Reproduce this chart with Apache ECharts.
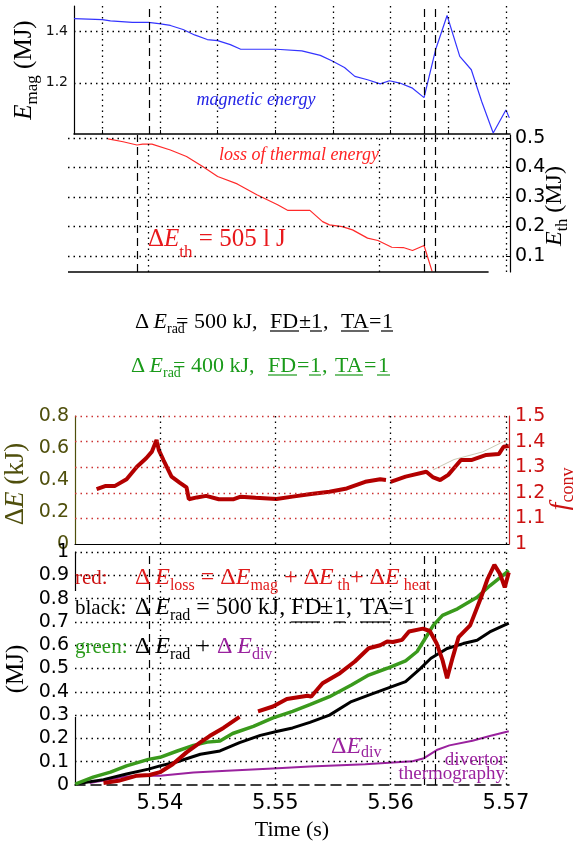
<!DOCTYPE html>
<html><head><meta charset="utf-8">
<script src="https://cdn.jsdelivr.net/npm/echarts@6/dist/echarts.min.js"></script>
<style>html,body{margin:0;padding:0;background:#fff}#c{width:573px;height:847px}</style>
</head><body><div id="c"></div>
<script>
// ---------------- data ----------------
const EMAG_T = [5.53255,5.5350,5.5357,5.5376,5.5390,5.5399,5.5409,5.5420,5.5430,5.5441,5.5450,5.5461,5.5470,5.5501,5.5523,5.5539,5.5549,5.5560,5.5569,5.5580,5.5591,5.5599,5.5608,5.5619,5.5629,5.5639,5.5649,5.5660,5.5670,5.5679,5.5689,5.5700,5.5703];
const EMAG_V = [1.451,1.447,1.442,1.436,1.436,1.431,1.424,1.408,1.387,1.369,1.365,1.349,1.331,1.331,1.325,1.307,1.286,1.260,1.225,1.212,1.196,1.208,1.199,1.179,1.142,1.329,1.463,1.303,1.251,1.127,1.004,1.094,1.063];

const ETH_T = [5.5355,5.5368,5.5380,5.5385,5.5393,5.5409,5.5423,5.5437,5.5450,5.5467,5.5484,5.5502,5.5511,5.5530,5.5541,5.5547,5.5558,5.5567,5.5580,5.5589,5.5601,5.5611,5.5619,5.5629,5.5636];
const ETH_V = [0.497,0.487,0.476,0.479,0.479,0.459,0.437,0.403,0.369,0.344,0.307,0.273,0.254,0.254,0.216,0.205,0.199,0.188,0.160,0.152,0.129,0.128,0.118,0.135,0.047];

const FCONV_T = [5.5345,5.5353,5.5361,5.5371,5.5380,5.5388,5.5393,5.5397,5.5399,5.5403,5.5410,5.5417,5.5423,5.5425,5.5432,5.5440,5.5451,5.5464,5.5470,5.5483,5.5501,5.5515,5.5531,5.5547,5.5562,5.5578,5.5591,5.5596,5.5598,5.5600,5.5613,5.5631,5.5637,5.5643,5.5650,5.5661,5.5670,5.5683,5.5694,5.5698,5.57025];
const FCONV_V = [1.214,1.227,1.227,1.253,1.302,1.335,1.361,1.406,1.367,1.328,1.263,1.240,1.221,1.175,1.182,1.188,1.175,1.175,1.185,1.181,1.176,1.185,1.195,1.204,1.217,1.243,1.253,1.250,null,1.243,1.263,1.282,1.260,1.250,1.270,1.328,1.328,1.348,1.352,1.380,1.383];
const TRACE_T = [5.5637,5.5655,5.5680,5.57025];
const TRACE_V = [1.290,1.330,1.360,1.410];

const LOSS_T = [5.5351,5.5364,5.5380,5.5391,5.5400,5.5411,5.5423,5.5435,5.5443,5.5455,5.5469,5.5477,5.5485,5.5498,5.5510,5.5528,5.5531,5.5541,5.5556,5.5569,5.5581,5.5591,5.5597,5.5602,5.5610,5.5616,5.5628,5.5634,5.5640,5.5645,5.5649,5.5654,5.5659,5.5669,5.5678,5.5684,5.5690,5.5695,5.5699,5.57025];
const LOSS_V = [0.009,0.018,0.040,0.043,0.055,0.089,0.140,0.183,0.210,0.245,0.292,null,0.316,0.337,0.369,0.383,0.379,0.437,0.480,0.530,0.587,0.600,0.616,0.614,0.623,0.659,0.671,0.661,0.607,0.536,0.458,0.550,0.635,0.685,0.799,0.883,0.945,0.905,0.848,0.912];

const RADDIV_T = [5.53265,5.5342,5.5357,5.5371,5.5390,5.5400,5.5415,5.5429,5.5441,5.5452,5.5463,5.5481,5.5498,5.5515,5.5530,5.5547,5.5566,5.5581,5.5597,5.5613,5.5623,5.5632,5.5637,5.5645,5.5658,5.5675,5.5686,5.57025];
const RADDIV_V = [0.004,0.034,0.055,0.082,0.110,0.119,0.146,0.170,0.184,0.189,0.221,0.252,0.288,0.316,0.345,0.379,0.429,0.472,0.501,0.533,0.573,0.645,0.685,0.728,0.756,0.806,0.855,0.920];

const RAD_T = [5.53265,5.5351,5.5371,5.5390,5.5400,5.5415,5.5435,5.5452,5.5469,5.5487,5.5502,5.5515,5.5530,5.5547,5.5566,5.5581,5.5597,5.5613,5.5626,5.5635,5.5649,5.5663,5.5675,5.5686,5.57025];
const RAD_V = [0.004,0.023,0.047,0.068,0.082,0.100,0.132,0.146,0.182,0.213,0.231,0.245,0.269,0.300,0.358,0.386,0.415,0.444,0.501,0.544,0.586,0.607,0.621,0.657,0.695];

const DIV_T = [5.5339,5.5371,5.5390,5.5400,5.5429,5.5458,5.5498,5.5530,5.5578,5.5619,5.5629,5.5640,5.5651,5.5671,5.5686,5.57025];
const DIV_V = [0.009,0.037,0.040,0.040,0.054,0.061,0.071,0.079,0.089,0.102,0.115,0.150,0.170,0.190,0.210,0.231];

// ticks / grid values
const TOP_VGRID = [5.535,5.54,5.545,5.55,5.555,5.56,5.565,5.57];
const EVENT_T = [5.5391,5.5629,5.5639];
const TH_DASH = [5.5380,5.5629,5.5639];
const TH_DOT = [5.5390,5.5590,5.5700];
const X_TICKS = [5.54,5.55,5.56,5.57];
const P1_Y = [1.2,1.4];
const P2_Y = [0.1,0.2,0.3,0.4,0.5];
const P3_YL = [0,0.2,0.4,0.6,0.8];
const P3_YR = [1,1.1,1.2,1.3,1.4,1.5];
const P3_RGRID = [1.1,1.2,1.3,1.4,1.5];
const P4_Y = [0,0.1,0.2,0.3,0.4,0.5,0.6,0.7,0.8,0.9,1];
const P4_GRID = [0.1,0.2,0.3,0.4,0.5,0.6,0.7,0.8,0.9,1];

// ---------------- helpers ----------------
const SERIF = '"Liberation Serif", "DejaVu Serif", serif';
const SANS = '"DejaVu Sans", "Liberation Sans", sans-serif';
const zip = (a, b) => a.map((t, i) => [t, b[i]]);
const fmt = v => String(Math.round(v * 100) / 100);

const DOT = {type: [1.5, 4], color: '#000', width: 1.3};
const DASH = {type: [8, 5], color: '#000', width: 1.2};
const RDOT = {type: [1.5, 4], color: '#cc3333', width: 1.3};

function marks(xi, yi, lines, style) {
  return {type: 'line', xAxisIndex: xi, yAxisIndex: yi, data: [], z: 1, silent: true,
    markLine: {silent: true, precision: 6, symbol: ['none', 'none'], animation: false,
      label: {show: false}, emphasis: {disabled: true}, lineStyle: style, data: lines}};
}
const vl = vals => vals.map(v => ({xAxis: v}));
const hl = vals => vals.map(v => ({yAxis: v}));
const hlSeg = (vals, x0, x1) => vals.map(v => [{coord: [x0, v]}, {coord: [x1, v]}]);

function richSet(color, big, sub, drop) {
  const L = Math.max(big + 4, 2 * drop + sub);
  const base = {fontFamily: SERIF, fontSize: big, lineHeight: L, fill: color, color: color, verticalAlign: 'middle'};
  return {
    d: Object.assign({}, base),
    e: Object.assign({}, base, {fontStyle: 'italic'}),
    n: Object.assign({}, base),
    s: {fontFamily: SERIF, fontSize: sub, lineHeight: sub, fill: color, color: color, verticalAlign: 'bottom'}
  };
}
function rtext(x, y, text, rich, opt) {
  opt = opt || {};
  const a = opt.align || 'left';
  return {type: 'text', x: x, y: y, rotation: opt.rot || 0, z: 10, silent: true,
    style: {text: text, rich: rich, x: 0, y: 0, textAlign: a, align: a, textVerticalAlign: 'middle', verticalAlign: 'middle'}};
}
function ptext(x, y, text, size, color, opt) {
  opt = opt || {};
  const a = opt.align || 'left';
  return {type: 'text', x: x, y: y, rotation: opt.rot || 0, z: 10, silent: true,
    style: {text: text, x: 0, y: 0, fill: color,
      font: (opt.italic ? 'italic ' : '') + size + 'px ' + (opt.family || SERIF),
      textAlign: a, align: a, textVerticalAlign: 'middle', verticalAlign: 'middle'}};
}
function uline(x1, x2, y, color) {
  return {type: 'line', z: 10, silent: true, shape: {x1: x1, y1: y, x2: x2, y2: y}, style: {stroke: color, lineWidth: 1.2}};
}
function box(x, y, w, h) {
  return {type: 'rect', z: 2, silent: true, shape: {x: x, y: y, width: w, height: h}, style: {fill: '#fff'}};
}

// axis ranges (time)
const T0 = [5.532541, 5.570356];
const T1 = [5.532021, 5.570356];
const T2 = [5.532628, 5.570269];

const RED = '#e01b1b', DRED = '#b30000', GREEN = '#2a9a1a', PURPLE = '#9a229e', OLIVE = '#4f4f0c', BLUE = '#3434ff';

const noAxisX = (gi, r) => ({type: 'value', gridIndex: gi, min: r[0], max: r[1], splitLine: {show: false},
  axisTick: {show: false}, axisLabel: {show: false}, axisLine: {show: false, onZero: false}});

const option = {
  animation: false,
  backgroundColor: '#fff',
  grid: [
    {left: 74, top: 6, width: 436, height: 128},
    {left: 68, top: 135, width: 442, height: 137},
    {left: 75, top: 416, width: 434, height: 128},
    {left: 75, top: 552, width: 434, height: 233}
  ],
  xAxis: [
    Object.assign(noAxisX(0, T0), {
      axisLine: {show: true, onZero: false, lineStyle: {color: '#000', width: 1.5}},
      axisTick: {show: true, inside: true, length: 4, customValues: TOP_VGRID.concat(EVENT_T), lineStyle: {color: '#000'}}
    }),
    noAxisX(1, T1),
    Object.assign(noAxisX(2, T2), {axisLine: {show: true, onZero: false, lineStyle: {color: '#000', width: 1.2}}}),
    Object.assign(noAxisX(3, T2), {
      axisLine: {show: true, onZero: false, lineStyle: {color: '#000', width: 1.5, type: [10, 6]}},
      axisLabel: {show: true, customValues: X_TICKS, formatter: v => v.toFixed(2), fontSize: 21,
        fontFamily: SANS, color: '#000', margin: 8},
      name: 'Time (s)', nameLocation: 'middle', nameGap: 34,
      nameTextStyle: {fontFamily: SERIF, fontSize: 22, color: '#000'}
    })
  ],
  yAxis: [
    {type: 'value', gridIndex: 0, min: 1, max: 1.5, splitLine: {show: false}, axisTick: {show: false},
      axisLine: {show: true, lineStyle: {color: '#000', width: 1.2}},
      axisLabel: {customValues: P1_Y, formatter: fmt, fontSize: 14, fontFamily: SANS, color: '#111', margin: 6}},
    {type: 'value', gridIndex: 1, position: 'right', min: 0.045, max: 0.51, splitLine: {show: false},
      axisTick: {show: true, inside: true, length: 4, customValues: P2_Y, lineStyle: {color: '#000'}},
      axisLine: {show: true, lineStyle: {color: '#000', width: 1.2}},
      axisLabel: {customValues: P2_Y, formatter: fmt, fontSize: 19, fontFamily: SANS, color: '#000', margin: 5}},
    {type: 'value', gridIndex: 2, position: 'left', min: 0, max: 0.8, splitLine: {show: false}, axisTick: {show: false},
      axisLine: {show: true, lineStyle: {color: OLIVE, width: 1.2}},
      axisLabel: {customValues: P3_YL, formatter: fmt, fontSize: 19, fontFamily: SANS, color: OLIVE, margin: 6}},
    {type: 'value', gridIndex: 2, position: 'right', min: 1, max: 1.5, splitLine: {show: false}, axisTick: {show: false},
      axisLine: {show: true, lineStyle: {color: '#cc2222', width: 1.2}},
      axisLabel: {customValues: P3_YR, formatter: fmt, fontSize: 19, fontFamily: SANS, color: '#cc1111', margin: 6}},
    {type: 'value', gridIndex: 3, position: 'left', min: 0, max: 1, splitLine: {show: false}, axisTick: {show: false},
      axisLine: {show: true, lineStyle: {color: '#000', width: 1.2}},
      axisLabel: {customValues: P4_Y, formatter: fmt, fontSize: 19, fontFamily: SANS, color: '#000', margin: 6}}
  ],
  series: [
    // grid lines
    marks(0, 0, vl(TOP_VGRID).concat(hl(P1_Y)), DOT),
    marks(0, 0, vl(EVENT_T), DASH),
    marks(1, 1, hlSeg(P2_Y, T1[0], 5.5700).concat(vl(TH_DOT)), DOT),
    marks(1, 1, vl(TH_DASH), DASH),
    marks(1, 1, [[{coord: [T1[0], 0.045]}, {coord: [5.5685, 0.045]}]], {type: 'solid', color: '#000', width: 1.5}),
    marks(2, 3, hl(P3_RGRID), RDOT),
    marks(2, 3, vl(X_TICKS), DOT),
    marks(3, 4, vl(X_TICKS).concat(hl(P4_GRID)), DOT),
    marks(3, 4, vl(EVENT_T), DASH),
    // data
    {type: 'line', name: 'E_mag', xAxisIndex: 0, yAxisIndex: 0, data: zip(EMAG_T, EMAG_V), symbol: 'none', z: 3,
      lineStyle: {color: BLUE, width: 1.2}},
    {type: 'line', name: 'E_th', xAxisIndex: 1, yAxisIndex: 1, data: zip(ETH_T, ETH_V), symbol: 'none', z: 3,
      lineStyle: {color: '#ff2a2a', width: 1.2}},
    {type: 'line', name: 'trace', xAxisIndex: 2, yAxisIndex: 3, data: zip(TRACE_T, TRACE_V), symbol: 'none', z: 3,
      lineStyle: {color: '#c9c9b4', width: 1}},
    {type: 'line', name: 'f_conv', xAxisIndex: 2, yAxisIndex: 3, data: zip(FCONV_T, FCONV_V), symbol: 'none', z: 4,
      connectNulls: false, lineStyle: {color: DRED, width: 4}},
    {type: 'line', name: 'div', xAxisIndex: 3, yAxisIndex: 4, data: zip(DIV_T, DIV_V), symbol: 'none', z: 3,
      lineStyle: {color: PURPLE, width: 2}},
    {type: 'line', name: 'rad', xAxisIndex: 3, yAxisIndex: 4, data: zip(RAD_T, RAD_V), symbol: 'none', z: 4,
      lineStyle: {color: '#000', width: 3}},
    {type: 'line', name: 'raddiv', xAxisIndex: 3, yAxisIndex: 4, data: zip(RADDIV_T, RADDIV_V), symbol: 'none', z: 5,
      lineStyle: {color: '#3a9a1c', width: 3.5}},
    {type: 'line', name: 'loss', xAxisIndex: 3, yAxisIndex: 4, data: zip(LOSS_T, LOSS_V), symbol: 'none', z: 6,
      connectNulls: false, lineStyle: {color: DRED, width: 4}}
  ],
  graphic: {elements: []}
};

// ---------------- text annotations ----------------
const G = option.graphic.elements;
// boxes hiding grid lines behind the legend text (bottom panel) and the ΔE_th note
G.push(box(133, 563, 297, 28), box(73, 591, 347, 42), box(73, 633, 263, 24), box(73, 657, 320, 25), box(73, 682, 185, 35));
G.push(box(146, 228, 136, 34));

// axis titles (rotated)
const R90 = Math.PI / 2;
G.push(rtext(24, 70, '{e|E}{s|mag}{n| (MJ)}', richSet('#000', 25, 17, 9), {rot: R90, align: 'center'}));
G.push(rtext(555, 206, '{e|E}{s|th}{n| (MJ)}', richSet('#000', 24, 16, 8), {rot: R90, align: 'center'}));
G.push(rtext(16, 484, '{d|Δ}{e|E}{n| (kJ)}', richSet(OLIVE, 27, 16, 8), {rot: R90, align: 'center'}));
G.push(rtext(561, 489, '{e|f}{s|conv}', richSet('#cc1111', 28, 18, 7), {rot: R90, align: 'center'}));
G.push(ptext(16, 669, '(MJ)', 25, '#000', {rot: R90, align: 'center'}));

// panel labels
G.push(ptext(256, 100, 'magnetic energy', 18, '#2323e6', {italic: true, align: 'center'}));
G.push(ptext(299, 155, 'loss of thermal energy', 18, '#ff2222', {italic: true, align: 'center'}));
G.push(rtext(148, 239, '{d|Δ}{e|E}{s|th}{n| = 505 l J}', richSet('#e8181c', 25, 17, 14)));

// middle captions
const BK = richSet('#000', 22, 14, 7);
G.push(rtext(135, 322, '{d|Δ\u2009}{e|E}{s|rad}', BK));
G.push(ptext(176, 322, '= 500 kJ,', 22, '#000'));
G.push(ptext(270, 322, 'FD', 22, '#000'), ptext(299, 322, '±', 22, '#000'), ptext(311, 322, '1', 22, '#000'),
  ptext(323, 322, ',', 22, '#000'), ptext(341, 322, 'TA', 22, '#000'), ptext(369, 322, '=', 22, '#000'), ptext(382, 322, '1', 22, '#000'));
G.push(uline(270, 299, 331, '#000'), uline(310, 322, 331, '#000'), uline(341, 369, 331, '#000'), uline(381, 393, 331, '#000'));
const GR = richSet('#1a9a1a', 22, 14, 7);
G.push(rtext(131, 366, '{d|Δ\u2009}{e|E}{s|rad}', GR));
G.push(ptext(173, 366, '= 400 kJ,', 22, '#1a9a1a'));
G.push(ptext(268, 366, 'FD', 22, '#1a9a1a'), ptext(297, 366, '=', 22, '#1a9a1a'), ptext(310, 366, '1', 22, '#1a9a1a'),
  ptext(322, 366, ',', 22, '#1a9a1a'), ptext(335, 366, 'TA', 22, '#1a9a1a'), ptext(364, 366, '=', 22, '#1a9a1a'), ptext(378, 366, '1', 22, '#1a9a1a'));
G.push(uline(268, 297, 375, '#1a9a1a'), uline(309, 321, 375, '#1a9a1a'), uline(335, 363, 375, '#1a9a1a'), uline(377, 390, 375, '#1a9a1a'));

// bottom panel legend text
G.push(ptext(75, 578, 'red:', 21, '#cc1111'));
G.push(rtext(135, 578, '{d|Δ\u2009}{e|E}{s|loss}{n| = Δ}{e|E}{s|mag}{n| + Δ}{e|E}{s| th}{n|+ Δ}{e|E}{s| heat}', richSet(RED, 24, 16, 8)));
G.push(ptext(75, 608, 'black:', 21, '#000'));
G.push(rtext(135, 608, '{d|Δ\u2009}{e|E}{s|rad}{n| = 500 kJ,}', richSet('#000', 24, 16, 8)));
G.push(ptext(291, 608, 'FD', 24, '#000'), ptext(320, 608, '±', 24, '#000'), ptext(334, 608, '1', 24, '#000'),
  ptext(346, 608, ',', 24, '#000'), ptext(360, 608, 'TA', 24, '#000'), ptext(390, 608, '=', 24, '#000'), ptext(403, 608, '1', 24, '#000'));
G.push(uline(291, 320, 622, '#000'), uline(334, 345, 622, '#000'), uline(360, 390, 622, '#000'), uline(403, 415, 622, '#000'));
G.push(ptext(75, 647, 'green:', 21, GREEN));
G.push(rtext(135, 647, '{d|Δ\u2009}{e|E}{s|rad}{n| +}', richSet('#000', 24, 16, 8)));
G.push(rtext(217, 647, '{d|Δ\u2009}{e|E}{s|div}', richSet(PURPLE, 24, 16, 8)));
G.push(rtext(331, 747, '{d|Δ}{e|E}{s|div}', richSet(PURPLE, 24, 16, 6)));
G.push(ptext(505, 760, 'divertor', 19, PURPLE, {align: 'right'}));
G.push(ptext(505, 774, 'thermography', 19, PURPLE, {align: 'right'}));

const chart = echarts.init(document.getElementById('c'), null, {renderer: 'canvas'});
chart.setOption(option);
</script></body></html>
